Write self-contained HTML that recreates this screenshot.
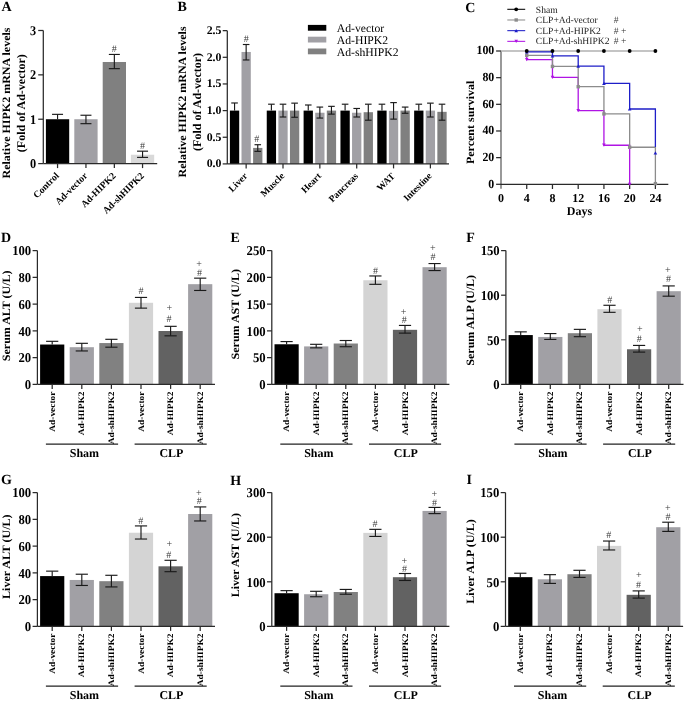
<!DOCTYPE html>
<html><head><meta charset="utf-8"><style>
html,body{margin:0;padding:0;background:#fff;}
svg{display:block;will-change:transform;filter:blur(0.35px);}
text{font-family:"Liberation Serif", serif;text-rendering:geometricPrecision;}
</style></head><body>
<svg width="685" height="701" viewBox="0 0 685 701">
<rect width="685" height="701" fill="#fff"/>
<text x="1.40" y="10.70" font-size="14" font-weight="bold">A</text>
<line x1="43.30" y1="30.49" x2="43.30" y2="163.60" stroke="#2a2a2a" stroke-width="1.25"/>
<line x1="38.20" y1="163.60" x2="43.30" y2="163.60" stroke="#2a2a2a" stroke-width="1.25"/>
<text transform="translate(36.25 167.90) scale(0.92 1)" font-size="13.4" font-weight="bold" text-anchor="end">0</text>
<line x1="38.20" y1="119.23" x2="43.30" y2="119.23" stroke="#2a2a2a" stroke-width="1.25"/>
<text transform="translate(36.25 123.53) scale(0.92 1)" font-size="13.4" font-weight="bold" text-anchor="end">1</text>
<line x1="38.20" y1="74.86" x2="43.30" y2="74.86" stroke="#2a2a2a" stroke-width="1.25"/>
<text transform="translate(36.25 79.16) scale(0.92 1)" font-size="13.4" font-weight="bold" text-anchor="end">2</text>
<line x1="38.20" y1="30.49" x2="43.30" y2="30.49" stroke="#2a2a2a" stroke-width="1.25"/>
<text transform="translate(36.25 34.79) scale(0.92 1)" font-size="13.4" font-weight="bold" text-anchor="end">3</text>
<rect x="45.90" y="119.23" width="23.30" height="44.37" fill="#000000"/>
<line x1="57.55" y1="163.60" x2="57.55" y2="168.10" stroke="#2a2a2a" stroke-width="1.25"/>
<rect x="74.30" y="119.23" width="23.30" height="44.37" fill="#a1a0a5"/>
<line x1="85.95" y1="163.60" x2="85.95" y2="168.10" stroke="#2a2a2a" stroke-width="1.25"/>
<rect x="102.70" y="61.99" width="23.30" height="101.61" fill="#808080"/>
<line x1="114.35" y1="163.60" x2="114.35" y2="168.10" stroke="#2a2a2a" stroke-width="1.25"/>
<rect x="130.90" y="154.73" width="23.30" height="8.87" fill="#d9d9d9"/>
<line x1="142.55" y1="163.60" x2="142.55" y2="168.10" stroke="#2a2a2a" stroke-width="1.25"/>
<line x1="43.30" y1="163.60" x2="157.20" y2="163.60" stroke="#2a2a2a" stroke-width="1.25"/>
<line x1="57.55" y1="114.35" x2="57.55" y2="119.23" stroke="#1a1a1a" stroke-width="1.15"/>
<line x1="52.05" y1="114.35" x2="63.05" y2="114.35" stroke="#1a1a1a" stroke-width="1.15"/>
<line x1="85.95" y1="115.24" x2="85.95" y2="123.67" stroke="#1a1a1a" stroke-width="1.15"/>
<line x1="80.45" y1="115.24" x2="91.45" y2="115.24" stroke="#1a1a1a" stroke-width="1.15"/>
<line x1="80.45" y1="123.67" x2="91.45" y2="123.67" stroke="#1a1a1a" stroke-width="1.15"/>
<line x1="114.35" y1="54.45" x2="114.35" y2="68.65" stroke="#1a1a1a" stroke-width="1.15"/>
<line x1="108.85" y1="54.45" x2="119.85" y2="54.45" stroke="#1a1a1a" stroke-width="1.15"/>
<line x1="108.85" y1="68.65" x2="119.85" y2="68.65" stroke="#1a1a1a" stroke-width="1.15"/>
<line x1="142.55" y1="151.18" x2="142.55" y2="157.39" stroke="#1a1a1a" stroke-width="1.15"/>
<line x1="137.05" y1="151.18" x2="148.05" y2="151.18" stroke="#1a1a1a" stroke-width="1.15"/>
<line x1="137.05" y1="157.39" x2="148.05" y2="157.39" stroke="#1a1a1a" stroke-width="1.15"/>
<text x="114.20" y="51.50" font-size="10" text-anchor="middle" fill="#3a3a3a">#</text>
<text x="142.60" y="148.50" font-size="10" text-anchor="middle" fill="#3a3a3a">#</text>
<text x="59.55" y="176.30" font-size="9.6" font-weight="bold" text-anchor="end" transform="rotate(-45 59.55 176.30)">Control</text>
<text x="87.95" y="176.30" font-size="9.6" font-weight="bold" text-anchor="end" transform="rotate(-45 87.95 176.30)">Ad-vector</text>
<text x="116.35" y="176.30" font-size="9.6" font-weight="bold" text-anchor="end" transform="rotate(-45 116.35 176.30)">Ad-HIPK2</text>
<text x="144.55" y="176.30" font-size="9.6" font-weight="bold" text-anchor="end" transform="rotate(-45 144.55 176.30)">Ad-shHIPK2</text>
<text transform="translate(9.90 103.00) rotate(-90) scale(1 0.93)" font-size="12" font-weight="bold" text-anchor="middle">Relative HIPK2 mRNA levels</text>
<text transform="translate(25.10 103.20) rotate(-90) scale(1 0.98)" font-size="12" font-weight="bold" text-anchor="middle">(Fold of Ad-vector)</text>
<text x="177.60" y="10.70" font-size="14" font-weight="bold">B</text>
<line x1="227.30" y1="30.65" x2="227.30" y2="163.90" stroke="#2a2a2a" stroke-width="1.25"/>
<line x1="222.70" y1="163.90" x2="227.30" y2="163.90" stroke="#2a2a2a" stroke-width="1.25"/>
<text transform="translate(221.40 167.40) scale(1.0 1)" font-size="11.8" font-weight="bold" text-anchor="end">0.0</text>
<line x1="222.70" y1="137.25" x2="227.30" y2="137.25" stroke="#2a2a2a" stroke-width="1.25"/>
<text transform="translate(221.40 140.75) scale(1.0 1)" font-size="11.8" font-weight="bold" text-anchor="end">0.5</text>
<line x1="222.70" y1="110.60" x2="227.30" y2="110.60" stroke="#2a2a2a" stroke-width="1.25"/>
<text transform="translate(221.40 114.10) scale(1.0 1)" font-size="11.8" font-weight="bold" text-anchor="end">1.0</text>
<line x1="222.70" y1="83.95" x2="227.30" y2="83.95" stroke="#2a2a2a" stroke-width="1.25"/>
<text transform="translate(221.40 87.45) scale(1.0 1)" font-size="11.8" font-weight="bold" text-anchor="end">1.5</text>
<line x1="222.70" y1="57.30" x2="227.30" y2="57.30" stroke="#2a2a2a" stroke-width="1.25"/>
<text transform="translate(221.40 60.80) scale(1.0 1)" font-size="11.8" font-weight="bold" text-anchor="end">2.0</text>
<line x1="222.70" y1="30.65" x2="227.30" y2="30.65" stroke="#2a2a2a" stroke-width="1.25"/>
<text transform="translate(221.40 34.15) scale(1.0 1)" font-size="11.8" font-weight="bold" text-anchor="end">2.5</text>
<rect x="229.90" y="110.60" width="9.30" height="53.30" fill="#000000"/>
<rect x="241.50" y="51.97" width="9.30" height="111.93" fill="#a1a0a5"/>
<rect x="253.10" y="147.91" width="9.30" height="15.99" fill="#808080"/>
<line x1="246.15" y1="163.90" x2="246.15" y2="168.40" stroke="#2a2a2a" stroke-width="1.25"/>
<text x="248.15" y="176.60" font-size="9.6" font-weight="bold" text-anchor="end" transform="rotate(-45 248.15 176.60)">Liver</text>
<rect x="266.75" y="110.60" width="9.30" height="53.30" fill="#000000"/>
<rect x="278.35" y="110.60" width="9.30" height="53.30" fill="#a1a0a5"/>
<rect x="289.95" y="110.60" width="9.30" height="53.30" fill="#808080"/>
<line x1="283.00" y1="163.90" x2="283.00" y2="168.40" stroke="#2a2a2a" stroke-width="1.25"/>
<text x="285.00" y="176.60" font-size="9.6" font-weight="bold" text-anchor="end" transform="rotate(-45 285.00 176.60)">Muscle</text>
<rect x="303.60" y="110.60" width="9.30" height="53.30" fill="#000000"/>
<rect x="315.20" y="112.73" width="9.30" height="51.17" fill="#a1a0a5"/>
<rect x="326.80" y="110.60" width="9.30" height="53.30" fill="#808080"/>
<line x1="319.85" y1="163.90" x2="319.85" y2="168.40" stroke="#2a2a2a" stroke-width="1.25"/>
<text x="321.85" y="176.60" font-size="9.6" font-weight="bold" text-anchor="end" transform="rotate(-45 321.85 176.60)">Heart</text>
<rect x="340.45" y="110.60" width="9.30" height="53.30" fill="#000000"/>
<rect x="352.05" y="112.73" width="9.30" height="51.17" fill="#a1a0a5"/>
<rect x="363.65" y="112.20" width="9.30" height="51.70" fill="#808080"/>
<line x1="356.70" y1="163.90" x2="356.70" y2="168.40" stroke="#2a2a2a" stroke-width="1.25"/>
<text x="358.70" y="176.60" font-size="9.6" font-weight="bold" text-anchor="end" transform="rotate(-45 358.70 176.60)">Pancreas</text>
<rect x="377.30" y="110.60" width="9.30" height="53.30" fill="#000000"/>
<rect x="388.90" y="110.87" width="9.30" height="53.03" fill="#a1a0a5"/>
<rect x="400.50" y="110.60" width="9.30" height="53.30" fill="#808080"/>
<line x1="393.55" y1="163.90" x2="393.55" y2="168.40" stroke="#2a2a2a" stroke-width="1.25"/>
<text x="395.55" y="176.60" font-size="9.6" font-weight="bold" text-anchor="end" transform="rotate(-45 395.55 176.60)">WAT</text>
<rect x="414.15" y="110.60" width="9.30" height="53.30" fill="#000000"/>
<rect x="425.75" y="110.60" width="9.30" height="53.30" fill="#a1a0a5"/>
<rect x="437.35" y="111.83" width="9.30" height="52.07" fill="#808080"/>
<line x1="430.40" y1="163.90" x2="430.40" y2="168.40" stroke="#2a2a2a" stroke-width="1.25"/>
<text x="432.40" y="176.60" font-size="9.6" font-weight="bold" text-anchor="end" transform="rotate(-45 432.40 176.60)">Intestine</text>
<line x1="227.30" y1="163.90" x2="449.00" y2="163.90" stroke="#2a2a2a" stroke-width="1.25"/>
<line x1="234.55" y1="102.98" x2="234.55" y2="110.60" stroke="#1a1a1a" stroke-width="1.15"/>
<line x1="231.25" y1="102.98" x2="237.85" y2="102.98" stroke="#1a1a1a" stroke-width="1.15"/>
<line x1="246.15" y1="44.51" x2="246.15" y2="59.97" stroke="#1a1a1a" stroke-width="1.15"/>
<line x1="242.85" y1="44.51" x2="249.45" y2="44.51" stroke="#1a1a1a" stroke-width="1.15"/>
<line x1="242.85" y1="59.97" x2="249.45" y2="59.97" stroke="#1a1a1a" stroke-width="1.15"/>
<line x1="257.75" y1="144.71" x2="257.75" y2="151.37" stroke="#1a1a1a" stroke-width="1.15"/>
<line x1="254.45" y1="144.71" x2="261.05" y2="144.71" stroke="#1a1a1a" stroke-width="1.15"/>
<line x1="254.45" y1="151.37" x2="261.05" y2="151.37" stroke="#1a1a1a" stroke-width="1.15"/>
<line x1="271.40" y1="104.20" x2="271.40" y2="110.60" stroke="#1a1a1a" stroke-width="1.15"/>
<line x1="268.10" y1="104.20" x2="274.70" y2="104.20" stroke="#1a1a1a" stroke-width="1.15"/>
<line x1="283.00" y1="104.20" x2="283.00" y2="117.00" stroke="#1a1a1a" stroke-width="1.15"/>
<line x1="279.70" y1="104.20" x2="286.30" y2="104.20" stroke="#1a1a1a" stroke-width="1.15"/>
<line x1="279.70" y1="117.00" x2="286.30" y2="117.00" stroke="#1a1a1a" stroke-width="1.15"/>
<line x1="294.60" y1="103.14" x2="294.60" y2="117.26" stroke="#1a1a1a" stroke-width="1.15"/>
<line x1="291.30" y1="103.14" x2="297.90" y2="103.14" stroke="#1a1a1a" stroke-width="1.15"/>
<line x1="291.30" y1="117.26" x2="297.90" y2="117.26" stroke="#1a1a1a" stroke-width="1.15"/>
<line x1="308.25" y1="105.00" x2="308.25" y2="110.60" stroke="#1a1a1a" stroke-width="1.15"/>
<line x1="304.95" y1="105.00" x2="311.55" y2="105.00" stroke="#1a1a1a" stroke-width="1.15"/>
<line x1="319.85" y1="107.08" x2="319.85" y2="118.06" stroke="#1a1a1a" stroke-width="1.15"/>
<line x1="316.55" y1="107.08" x2="323.15" y2="107.08" stroke="#1a1a1a" stroke-width="1.15"/>
<line x1="316.55" y1="118.06" x2="323.15" y2="118.06" stroke="#1a1a1a" stroke-width="1.15"/>
<line x1="331.45" y1="106.34" x2="331.45" y2="114.12" stroke="#1a1a1a" stroke-width="1.15"/>
<line x1="328.15" y1="106.34" x2="334.75" y2="106.34" stroke="#1a1a1a" stroke-width="1.15"/>
<line x1="328.15" y1="114.12" x2="334.75" y2="114.12" stroke="#1a1a1a" stroke-width="1.15"/>
<line x1="345.10" y1="104.20" x2="345.10" y2="110.60" stroke="#1a1a1a" stroke-width="1.15"/>
<line x1="341.80" y1="104.20" x2="348.40" y2="104.20" stroke="#1a1a1a" stroke-width="1.15"/>
<line x1="356.70" y1="108.47" x2="356.70" y2="117.00" stroke="#1a1a1a" stroke-width="1.15"/>
<line x1="353.40" y1="108.47" x2="360.00" y2="108.47" stroke="#1a1a1a" stroke-width="1.15"/>
<line x1="353.40" y1="117.00" x2="360.00" y2="117.00" stroke="#1a1a1a" stroke-width="1.15"/>
<line x1="368.30" y1="104.20" x2="368.30" y2="120.19" stroke="#1a1a1a" stroke-width="1.15"/>
<line x1="365.00" y1="104.20" x2="371.60" y2="104.20" stroke="#1a1a1a" stroke-width="1.15"/>
<line x1="365.00" y1="120.19" x2="371.60" y2="120.19" stroke="#1a1a1a" stroke-width="1.15"/>
<line x1="381.95" y1="104.20" x2="381.95" y2="110.60" stroke="#1a1a1a" stroke-width="1.15"/>
<line x1="378.65" y1="104.20" x2="385.25" y2="104.20" stroke="#1a1a1a" stroke-width="1.15"/>
<line x1="393.55" y1="102.61" x2="393.55" y2="119.13" stroke="#1a1a1a" stroke-width="1.15"/>
<line x1="390.25" y1="102.61" x2="396.85" y2="102.61" stroke="#1a1a1a" stroke-width="1.15"/>
<line x1="390.25" y1="119.13" x2="396.85" y2="119.13" stroke="#1a1a1a" stroke-width="1.15"/>
<line x1="405.15" y1="107.08" x2="405.15" y2="113.27" stroke="#1a1a1a" stroke-width="1.15"/>
<line x1="401.85" y1="107.08" x2="408.45" y2="107.08" stroke="#1a1a1a" stroke-width="1.15"/>
<line x1="401.85" y1="113.27" x2="408.45" y2="113.27" stroke="#1a1a1a" stroke-width="1.15"/>
<line x1="418.80" y1="104.20" x2="418.80" y2="110.60" stroke="#1a1a1a" stroke-width="1.15"/>
<line x1="415.50" y1="104.20" x2="422.10" y2="104.20" stroke="#1a1a1a" stroke-width="1.15"/>
<line x1="430.40" y1="103.14" x2="430.40" y2="117.00" stroke="#1a1a1a" stroke-width="1.15"/>
<line x1="427.10" y1="103.14" x2="433.70" y2="103.14" stroke="#1a1a1a" stroke-width="1.15"/>
<line x1="427.10" y1="117.00" x2="433.70" y2="117.00" stroke="#1a1a1a" stroke-width="1.15"/>
<line x1="442.00" y1="104.20" x2="442.00" y2="120.19" stroke="#1a1a1a" stroke-width="1.15"/>
<line x1="438.70" y1="104.20" x2="445.30" y2="104.20" stroke="#1a1a1a" stroke-width="1.15"/>
<line x1="438.70" y1="120.19" x2="445.30" y2="120.19" stroke="#1a1a1a" stroke-width="1.15"/>
<text x="246.20" y="42.00" font-size="10" text-anchor="middle" fill="#3a3a3a">#</text>
<text x="256.80" y="142.30" font-size="10" text-anchor="middle" fill="#3a3a3a">#</text>
<text transform="translate(186.00 101.90) rotate(-90) scale(1 0.93)" font-size="12" font-weight="bold" text-anchor="middle">Relative HIPK2 mRNA levels</text>
<text transform="translate(200.60 101.90) rotate(-90) scale(1 0.98)" font-size="12" font-weight="bold" text-anchor="middle">(Fold of Ad-vector)</text>
<rect x="307.90" y="24.90" width="18.40" height="5.80" fill="#000000"/>
<text x="336.80" y="31.90" font-size="11.7">Ad-vector</text>
<rect x="307.90" y="36.70" width="18.40" height="5.80" fill="#a1a0a5"/>
<text x="336.80" y="43.70" font-size="11.7">Ad-HIPK2</text>
<rect x="307.90" y="48.50" width="18.40" height="5.80" fill="#808080"/>
<text x="336.80" y="55.50" font-size="11.7">Ad-shHIPK2</text>
<text x="465.30" y="12.40" font-size="14" font-weight="bold">C</text>
<line x1="501.00" y1="50.90" x2="501.00" y2="188.80" stroke="#808080" stroke-width="1.6"/>
<line x1="496.10" y1="184.30" x2="501.00" y2="184.30" stroke="#2a2a2a" stroke-width="1.25"/>
<text transform="translate(494.30 187.70) scale(0.96 1)" font-size="12.4" font-weight="bold" text-anchor="end">0</text>
<line x1="496.10" y1="157.64" x2="501.00" y2="157.64" stroke="#2a2a2a" stroke-width="1.25"/>
<text transform="translate(494.30 161.04) scale(0.96 1)" font-size="12.4" font-weight="bold" text-anchor="end">20</text>
<line x1="496.10" y1="130.98" x2="501.00" y2="130.98" stroke="#2a2a2a" stroke-width="1.25"/>
<text transform="translate(494.30 134.38) scale(0.96 1)" font-size="12.4" font-weight="bold" text-anchor="end">40</text>
<line x1="496.10" y1="104.32" x2="501.00" y2="104.32" stroke="#2a2a2a" stroke-width="1.25"/>
<text transform="translate(494.30 107.72) scale(0.96 1)" font-size="12.4" font-weight="bold" text-anchor="end">60</text>
<line x1="496.10" y1="77.66" x2="501.00" y2="77.66" stroke="#2a2a2a" stroke-width="1.25"/>
<text transform="translate(494.30 81.06) scale(0.96 1)" font-size="12.4" font-weight="bold" text-anchor="end">80</text>
<line x1="496.10" y1="51.00" x2="501.00" y2="51.00" stroke="#2a2a2a" stroke-width="1.25"/>
<text transform="translate(494.30 54.40) scale(0.96 1)" font-size="12.4" font-weight="bold" text-anchor="end">100</text>
<line x1="501.00" y1="184.30" x2="668.30" y2="184.30" stroke="#2a2a2a" stroke-width="1.25"/>
<text x="501.00" y="202.00" font-size="12" font-weight="bold" text-anchor="middle">0</text>
<line x1="526.73" y1="184.30" x2="526.73" y2="189.00" stroke="#2a2a2a" stroke-width="1.25"/>
<text x="526.73" y="202.00" font-size="12" font-weight="bold" text-anchor="middle">4</text>
<line x1="552.46" y1="184.30" x2="552.46" y2="189.00" stroke="#2a2a2a" stroke-width="1.25"/>
<text x="552.46" y="202.00" font-size="12" font-weight="bold" text-anchor="middle">8</text>
<line x1="578.20" y1="184.30" x2="578.20" y2="189.00" stroke="#2a2a2a" stroke-width="1.25"/>
<text x="578.20" y="202.00" font-size="12" font-weight="bold" text-anchor="middle">12</text>
<line x1="603.93" y1="184.30" x2="603.93" y2="189.00" stroke="#2a2a2a" stroke-width="1.25"/>
<text x="603.93" y="202.00" font-size="12" font-weight="bold" text-anchor="middle">16</text>
<line x1="629.66" y1="184.30" x2="629.66" y2="189.00" stroke="#2a2a2a" stroke-width="1.25"/>
<text x="629.66" y="202.00" font-size="12" font-weight="bold" text-anchor="middle">20</text>
<line x1="655.39" y1="184.30" x2="655.39" y2="189.00" stroke="#2a2a2a" stroke-width="1.25"/>
<text x="655.39" y="202.00" font-size="12" font-weight="bold" text-anchor="middle">24</text>
<text x="579.50" y="214.60" font-size="12" font-weight="bold" text-anchor="middle">Days</text>
<text transform="translate(473.60 122.40) rotate(-90) scale(1 0.93)" font-size="12" font-weight="bold" text-anchor="middle">Percent survival</text>
<line x1="501.00" y1="51.00" x2="655.39" y2="51.00" stroke="#b0b0b0" stroke-width="1.3"/>
<path d="M526.73,51.00 V59.53 H552.46 V77.39 H578.20 V110.59 H603.93 V145.24 H629.66 V184.30" stroke="#b014e4" stroke-width="1.3" fill="none"/>
<path d="M526.73,51.00 V55.40 H552.46 V66.46 H578.20 V86.72 H603.93 V113.92 H629.66 V147.24 H655.39 V183.63" stroke="#8c8c8c" stroke-width="1.3" fill="none"/>
<path d="M526.73,51.00 V51.87 H552.46 V55.93 H578.20 V66.06 H603.93 V83.39 H629.66 V108.99 H655.39 V146.98" stroke="#1e1ec8" stroke-width="1.3" fill="none"/>
<path d="M524.93,57.91 L528.53,57.91 L526.73,61.15 Z" fill="#b014e4"/>
<path d="M550.66,75.77 L554.26,75.77 L552.46,79.01 Z" fill="#b014e4"/>
<path d="M576.40,108.97 L580.00,108.97 L578.20,112.21 Z" fill="#b014e4"/>
<path d="M602.13,143.62 L605.73,143.62 L603.93,146.86 Z" fill="#b014e4"/>
<path d="M627.86,182.68 L631.46,182.68 L629.66,185.92 Z" fill="#b014e4"/>
<rect x="525.03" y="53.70" width="3.40" height="3.40" fill="#8c8c8c"/>
<rect x="550.76" y="64.76" width="3.40" height="3.40" fill="#8c8c8c"/>
<rect x="576.50" y="85.02" width="3.40" height="3.40" fill="#8c8c8c"/>
<rect x="602.23" y="112.22" width="3.40" height="3.40" fill="#8c8c8c"/>
<rect x="627.96" y="145.54" width="3.40" height="3.40" fill="#8c8c8c"/>
<rect x="653.69" y="181.93" width="3.40" height="3.40" fill="#8c8c8c"/>
<path d="M524.93,53.49 L528.53,53.49 L526.73,50.25 Z" fill="#1e1ec8"/>
<path d="M550.66,57.55 L554.26,57.55 L552.46,54.31 Z" fill="#1e1ec8"/>
<path d="M576.40,67.68 L580.00,67.68 L578.20,64.44 Z" fill="#1e1ec8"/>
<path d="M602.13,85.01 L605.73,85.01 L603.93,81.77 Z" fill="#1e1ec8"/>
<path d="M627.86,110.61 L631.46,110.61 L629.66,107.37 Z" fill="#1e1ec8"/>
<path d="M653.59,154.59 L657.19,154.59 L655.39,151.35 Z" fill="#1e1ec8"/>
<circle cx="526.73" cy="51.00" r="1.9" fill="#000"/>
<circle cx="552.46" cy="51.00" r="1.9" fill="#000"/>
<circle cx="578.20" cy="51.00" r="1.9" fill="#000"/>
<circle cx="603.93" cy="51.00" r="1.9" fill="#000"/>
<circle cx="629.66" cy="51.00" r="1.9" fill="#000"/>
<circle cx="655.39" cy="51.00" r="1.9" fill="#000"/>
<line x1="507.30" y1="9.30" x2="525.20" y2="9.30" stroke="#000" stroke-width="1.05"/>
<circle cx="516.20" cy="9.30" r="1.9" fill="#000"/>
<text x="535.80" y="13.00" font-size="9.6" fill="#222">Sham</text>
<line x1="507.30" y1="19.98" x2="525.20" y2="19.98" stroke="#8c8c8c" stroke-width="1.05"/>
<rect x="514.50" y="18.28" width="3.40" height="3.40" fill="#8c8c8c"/>
<text x="535.80" y="23.35" font-size="9.6" fill="#222">CLP+Ad-vector</text>
<text x="613.70" y="23.35" font-size="9.6" fill="#333">#</text>
<line x1="507.30" y1="30.66" x2="525.20" y2="30.66" stroke="#1e1ec8" stroke-width="1.05"/>
<path d="M514.40,32.28 L518.00,32.28 L516.20,29.04 Z" fill="#1e1ec8"/>
<text x="535.80" y="33.70" font-size="9.6" fill="#222">CLP+Ad-HIPK2</text>
<text x="613.70" y="33.70" font-size="9.6" fill="#333">#</text>
<text x="621.10" y="33.70" font-size="9.6" fill="#333">+</text>
<line x1="507.30" y1="41.34" x2="525.20" y2="41.34" stroke="#b014e4" stroke-width="1.05"/>
<path d="M514.40,39.72 L518.00,39.72 L516.20,42.96 Z" fill="#b014e4"/>
<text x="535.80" y="44.05" font-size="9.6" fill="#222">CLP+Ad-shHIPK2</text>
<text x="613.70" y="44.05" font-size="9.6" fill="#333">#</text>
<text x="621.10" y="44.05" font-size="9.6" fill="#333">+</text>
<text x="1.10" y="241.50" font-size="14" font-weight="bold">D</text>
<line x1="37.40" y1="250.60" x2="37.40" y2="384.40" stroke="#2a2a2a" stroke-width="1.25"/>
<line x1="32.60" y1="384.40" x2="37.40" y2="384.40" stroke="#2a2a2a" stroke-width="1.25"/>
<text transform="translate(31.20 389.10) scale(0.94 1)" font-size="13.5" font-weight="bold" text-anchor="end">0</text>
<line x1="32.60" y1="357.64" x2="37.40" y2="357.64" stroke="#2a2a2a" stroke-width="1.25"/>
<text transform="translate(31.20 362.34) scale(0.94 1)" font-size="13.5" font-weight="bold" text-anchor="end">20</text>
<line x1="32.60" y1="330.88" x2="37.40" y2="330.88" stroke="#2a2a2a" stroke-width="1.25"/>
<text transform="translate(31.20 335.58) scale(0.94 1)" font-size="13.5" font-weight="bold" text-anchor="end">40</text>
<line x1="32.60" y1="304.12" x2="37.40" y2="304.12" stroke="#2a2a2a" stroke-width="1.25"/>
<text transform="translate(31.20 308.82) scale(0.94 1)" font-size="13.5" font-weight="bold" text-anchor="end">60</text>
<line x1="32.60" y1="277.36" x2="37.40" y2="277.36" stroke="#2a2a2a" stroke-width="1.25"/>
<text transform="translate(31.20 282.06) scale(0.94 1)" font-size="13.5" font-weight="bold" text-anchor="end">80</text>
<line x1="32.60" y1="250.60" x2="37.40" y2="250.60" stroke="#2a2a2a" stroke-width="1.25"/>
<text transform="translate(31.20 255.30) scale(0.94 1)" font-size="13.5" font-weight="bold" text-anchor="end">100</text>
<rect x="40.10" y="344.53" width="24.20" height="39.87" fill="#000000"/>
<line x1="52.20" y1="384.40" x2="52.20" y2="388.90" stroke="#2a2a2a" stroke-width="1.25"/>
<text transform="translate(54.70 391.60) rotate(-90) scale(1 0.9)" font-size="9.4" font-weight="bold" text-anchor="end">Ad-vector</text>
<rect x="69.70" y="347.20" width="24.20" height="37.20" fill="#a1a0a5"/>
<line x1="81.80" y1="384.40" x2="81.80" y2="388.90" stroke="#2a2a2a" stroke-width="1.25"/>
<text transform="translate(84.30 391.60) rotate(-90) scale(1 0.9)" font-size="9.4" font-weight="bold" text-anchor="end">Ad-HIPK2</text>
<rect x="99.30" y="343.06" width="24.20" height="41.34" fill="#818181"/>
<line x1="111.40" y1="384.40" x2="111.40" y2="388.90" stroke="#2a2a2a" stroke-width="1.25"/>
<text transform="translate(113.90 391.60) rotate(-90) scale(1 0.9)" font-size="9.4" font-weight="bold" text-anchor="end">Ad-shHIPK2</text>
<rect x="128.90" y="302.78" width="24.20" height="81.62" fill="#d4d4d4"/>
<line x1="141.00" y1="384.40" x2="141.00" y2="388.90" stroke="#2a2a2a" stroke-width="1.25"/>
<text transform="translate(143.50 391.60) rotate(-90) scale(1 0.9)" font-size="9.4" font-weight="bold" text-anchor="end">Ad-vector</text>
<rect x="158.50" y="331.01" width="24.20" height="53.39" fill="#626262"/>
<line x1="170.60" y1="384.40" x2="170.60" y2="388.90" stroke="#2a2a2a" stroke-width="1.25"/>
<text transform="translate(173.10 391.60) rotate(-90) scale(1 0.9)" font-size="9.4" font-weight="bold" text-anchor="end">Ad-HIPK2</text>
<rect x="188.10" y="284.18" width="24.20" height="100.22" fill="#a1a0a5"/>
<line x1="200.20" y1="384.40" x2="200.20" y2="388.90" stroke="#2a2a2a" stroke-width="1.25"/>
<text transform="translate(202.70 391.60) rotate(-90) scale(1 0.9)" font-size="9.4" font-weight="bold" text-anchor="end">Ad-shHIPK2</text>
<line x1="37.40" y1="384.40" x2="215.00" y2="384.40" stroke="#2a2a2a" stroke-width="1.25"/>
<line x1="52.20" y1="341.32" x2="52.20" y2="344.53" stroke="#1a1a1a" stroke-width="1.15"/>
<line x1="46.10" y1="341.32" x2="58.30" y2="341.32" stroke="#1a1a1a" stroke-width="1.15"/>
<line x1="81.80" y1="343.32" x2="81.80" y2="350.95" stroke="#1a1a1a" stroke-width="1.15"/>
<line x1="75.70" y1="343.32" x2="87.90" y2="343.32" stroke="#1a1a1a" stroke-width="1.15"/>
<line x1="75.70" y1="350.95" x2="87.90" y2="350.95" stroke="#1a1a1a" stroke-width="1.15"/>
<line x1="111.40" y1="339.31" x2="111.40" y2="347.20" stroke="#1a1a1a" stroke-width="1.15"/>
<line x1="105.30" y1="339.31" x2="117.50" y2="339.31" stroke="#1a1a1a" stroke-width="1.15"/>
<line x1="105.30" y1="347.20" x2="117.50" y2="347.20" stroke="#1a1a1a" stroke-width="1.15"/>
<line x1="141.00" y1="297.43" x2="141.00" y2="308.13" stroke="#1a1a1a" stroke-width="1.15"/>
<line x1="134.90" y1="297.43" x2="147.10" y2="297.43" stroke="#1a1a1a" stroke-width="1.15"/>
<line x1="134.90" y1="308.13" x2="147.10" y2="308.13" stroke="#1a1a1a" stroke-width="1.15"/>
<line x1="170.60" y1="326.33" x2="170.60" y2="335.83" stroke="#1a1a1a" stroke-width="1.15"/>
<line x1="164.50" y1="326.33" x2="176.70" y2="326.33" stroke="#1a1a1a" stroke-width="1.15"/>
<line x1="164.50" y1="335.83" x2="176.70" y2="335.83" stroke="#1a1a1a" stroke-width="1.15"/>
<line x1="200.20" y1="278.16" x2="200.20" y2="290.47" stroke="#1a1a1a" stroke-width="1.15"/>
<line x1="194.10" y1="278.16" x2="206.30" y2="278.16" stroke="#1a1a1a" stroke-width="1.15"/>
<line x1="194.10" y1="290.47" x2="206.30" y2="290.47" stroke="#1a1a1a" stroke-width="1.15"/>
<text x="141.00" y="294.30" font-size="10" text-anchor="middle" fill="#3a3a3a">#</text>
<text x="168.90" y="321.70" font-size="10" text-anchor="middle" fill="#3a3a3a">#</text>
<text x="169.30" y="310.70" font-size="10" text-anchor="middle" fill="#3a3a3a">+</text>
<text x="199.60" y="275.60" font-size="10" text-anchor="middle" fill="#3a3a3a">#</text>
<text x="199.00" y="266.70" font-size="10" text-anchor="middle" fill="#3a3a3a">+</text>
<line x1="45.90" y1="444.10" x2="118.10" y2="444.10" stroke="#222" stroke-width="1.2"/>
<line x1="134.60" y1="444.10" x2="206.70" y2="444.10" stroke="#222" stroke-width="1.2"/>
<text x="84.40" y="457.20" font-size="12" font-weight="bold" text-anchor="middle">Sham</text>
<text x="171.40" y="457.20" font-size="12" font-weight="bold" text-anchor="middle">CLP</text>
<text transform="translate(9.90 315.85) rotate(-90) scale(1 0.93)" font-size="12" font-weight="bold" text-anchor="middle">Serum ALT (U/L)</text>
<text x="230.40" y="241.50" font-size="14" font-weight="bold">E</text>
<line x1="271.80" y1="250.60" x2="271.80" y2="384.40" stroke="#2a2a2a" stroke-width="1.25"/>
<line x1="267.00" y1="384.40" x2="271.80" y2="384.40" stroke="#2a2a2a" stroke-width="1.25"/>
<text transform="translate(265.60 389.10) scale(0.94 1)" font-size="13.5" font-weight="bold" text-anchor="end">0</text>
<line x1="267.00" y1="357.64" x2="271.80" y2="357.64" stroke="#2a2a2a" stroke-width="1.25"/>
<text transform="translate(265.60 362.34) scale(0.94 1)" font-size="13.5" font-weight="bold" text-anchor="end">50</text>
<line x1="267.00" y1="330.88" x2="271.80" y2="330.88" stroke="#2a2a2a" stroke-width="1.25"/>
<text transform="translate(265.60 335.58) scale(0.94 1)" font-size="13.5" font-weight="bold" text-anchor="end">100</text>
<line x1="267.00" y1="304.12" x2="271.80" y2="304.12" stroke="#2a2a2a" stroke-width="1.25"/>
<text transform="translate(265.60 308.82) scale(0.94 1)" font-size="13.5" font-weight="bold" text-anchor="end">150</text>
<line x1="267.00" y1="277.36" x2="271.80" y2="277.36" stroke="#2a2a2a" stroke-width="1.25"/>
<text transform="translate(265.60 282.06) scale(0.94 1)" font-size="13.5" font-weight="bold" text-anchor="end">200</text>
<line x1="267.00" y1="250.60" x2="271.80" y2="250.60" stroke="#2a2a2a" stroke-width="1.25"/>
<text transform="translate(265.60 255.30) scale(0.94 1)" font-size="13.5" font-weight="bold" text-anchor="end">250</text>
<rect x="274.50" y="344.26" width="24.20" height="40.14" fill="#000000"/>
<line x1="286.60" y1="384.40" x2="286.60" y2="388.90" stroke="#2a2a2a" stroke-width="1.25"/>
<text transform="translate(289.10 391.60) rotate(-90) scale(1 0.9)" font-size="9.4" font-weight="bold" text-anchor="end">Ad-vector</text>
<rect x="304.10" y="346.40" width="24.20" height="38.00" fill="#a1a0a5"/>
<line x1="316.20" y1="384.40" x2="316.20" y2="388.90" stroke="#2a2a2a" stroke-width="1.25"/>
<text transform="translate(318.70 391.60) rotate(-90) scale(1 0.9)" font-size="9.4" font-weight="bold" text-anchor="end">Ad-HIPK2</text>
<rect x="333.70" y="343.51" width="24.20" height="40.89" fill="#818181"/>
<line x1="345.80" y1="384.40" x2="345.80" y2="388.90" stroke="#2a2a2a" stroke-width="1.25"/>
<text transform="translate(348.30 391.60) rotate(-90) scale(1 0.9)" font-size="9.4" font-weight="bold" text-anchor="end">Ad-shHIPK2</text>
<rect x="363.30" y="280.25" width="24.20" height="104.15" fill="#d4d4d4"/>
<line x1="375.40" y1="384.40" x2="375.40" y2="388.90" stroke="#2a2a2a" stroke-width="1.25"/>
<text transform="translate(377.90 391.60) rotate(-90) scale(1 0.9)" font-size="9.4" font-weight="bold" text-anchor="end">Ad-vector</text>
<rect x="392.90" y="329.81" width="24.20" height="54.59" fill="#626262"/>
<line x1="405.00" y1="384.40" x2="405.00" y2="388.90" stroke="#2a2a2a" stroke-width="1.25"/>
<text transform="translate(407.50 391.60) rotate(-90) scale(1 0.9)" font-size="9.4" font-weight="bold" text-anchor="end">Ad-HIPK2</text>
<rect x="422.50" y="267.19" width="24.20" height="117.21" fill="#a1a0a5"/>
<line x1="434.60" y1="384.40" x2="434.60" y2="388.90" stroke="#2a2a2a" stroke-width="1.25"/>
<text transform="translate(437.10 391.60) rotate(-90) scale(1 0.9)" font-size="9.4" font-weight="bold" text-anchor="end">Ad-shHIPK2</text>
<line x1="271.80" y1="384.40" x2="449.40" y2="384.40" stroke="#2a2a2a" stroke-width="1.25"/>
<line x1="286.60" y1="341.58" x2="286.60" y2="344.26" stroke="#1a1a1a" stroke-width="1.15"/>
<line x1="280.50" y1="341.58" x2="292.70" y2="341.58" stroke="#1a1a1a" stroke-width="1.15"/>
<line x1="316.20" y1="344.31" x2="316.20" y2="347.85" stroke="#1a1a1a" stroke-width="1.15"/>
<line x1="310.10" y1="344.31" x2="322.30" y2="344.31" stroke="#1a1a1a" stroke-width="1.15"/>
<line x1="310.10" y1="347.85" x2="322.30" y2="347.85" stroke="#1a1a1a" stroke-width="1.15"/>
<line x1="345.80" y1="340.51" x2="345.80" y2="346.72" stroke="#1a1a1a" stroke-width="1.15"/>
<line x1="339.70" y1="340.51" x2="351.90" y2="340.51" stroke="#1a1a1a" stroke-width="1.15"/>
<line x1="339.70" y1="346.72" x2="351.90" y2="346.72" stroke="#1a1a1a" stroke-width="1.15"/>
<line x1="375.40" y1="275.97" x2="375.40" y2="284.32" stroke="#1a1a1a" stroke-width="1.15"/>
<line x1="369.30" y1="275.97" x2="381.50" y2="275.97" stroke="#1a1a1a" stroke-width="1.15"/>
<line x1="369.30" y1="284.32" x2="381.50" y2="284.32" stroke="#1a1a1a" stroke-width="1.15"/>
<line x1="405.00" y1="325.42" x2="405.00" y2="333.13" stroke="#1a1a1a" stroke-width="1.15"/>
<line x1="398.90" y1="325.42" x2="411.10" y2="325.42" stroke="#1a1a1a" stroke-width="1.15"/>
<line x1="398.90" y1="333.13" x2="411.10" y2="333.13" stroke="#1a1a1a" stroke-width="1.15"/>
<line x1="434.60" y1="263.55" x2="434.60" y2="270.56" stroke="#1a1a1a" stroke-width="1.15"/>
<line x1="428.50" y1="263.55" x2="440.70" y2="263.55" stroke="#1a1a1a" stroke-width="1.15"/>
<line x1="428.50" y1="270.56" x2="440.70" y2="270.56" stroke="#1a1a1a" stroke-width="1.15"/>
<text x="375.40" y="273.90" font-size="10" text-anchor="middle" fill="#3a3a3a">#</text>
<text x="404.30" y="323.20" font-size="10" text-anchor="middle" fill="#3a3a3a">#</text>
<text x="403.50" y="314.70" font-size="10" text-anchor="middle" fill="#3a3a3a">+</text>
<text x="433.10" y="260.40" font-size="10" text-anchor="middle" fill="#3a3a3a">#</text>
<text x="432.70" y="251.20" font-size="10" text-anchor="middle" fill="#3a3a3a">+</text>
<line x1="280.30" y1="444.10" x2="352.50" y2="444.10" stroke="#222" stroke-width="1.2"/>
<line x1="369.00" y1="444.10" x2="441.10" y2="444.10" stroke="#222" stroke-width="1.2"/>
<text x="318.80" y="457.20" font-size="12" font-weight="bold" text-anchor="middle">Sham</text>
<text x="405.80" y="457.20" font-size="12" font-weight="bold" text-anchor="middle">CLP</text>
<text transform="translate(238.50 314.15) rotate(-90) scale(1 0.93)" font-size="12" font-weight="bold" text-anchor="middle">Serum AST (U/L)</text>
<text x="466.30" y="241.50" font-size="14" font-weight="bold">F</text>
<line x1="505.90" y1="250.60" x2="505.90" y2="384.40" stroke="#2a2a2a" stroke-width="1.25"/>
<line x1="501.10" y1="384.40" x2="505.90" y2="384.40" stroke="#2a2a2a" stroke-width="1.25"/>
<text transform="translate(499.70 389.10) scale(0.94 1)" font-size="13.5" font-weight="bold" text-anchor="end">0</text>
<line x1="501.10" y1="339.80" x2="505.90" y2="339.80" stroke="#2a2a2a" stroke-width="1.25"/>
<text transform="translate(499.70 344.50) scale(0.94 1)" font-size="13.5" font-weight="bold" text-anchor="end">50</text>
<line x1="501.10" y1="295.20" x2="505.90" y2="295.20" stroke="#2a2a2a" stroke-width="1.25"/>
<text transform="translate(499.70 299.90) scale(0.94 1)" font-size="13.5" font-weight="bold" text-anchor="end">100</text>
<line x1="501.10" y1="250.60" x2="505.90" y2="250.60" stroke="#2a2a2a" stroke-width="1.25"/>
<text transform="translate(499.70 255.30) scale(0.94 1)" font-size="13.5" font-weight="bold" text-anchor="end">150</text>
<rect x="508.60" y="335.07" width="24.20" height="49.33" fill="#000000"/>
<line x1="520.70" y1="384.40" x2="520.70" y2="388.90" stroke="#2a2a2a" stroke-width="1.25"/>
<text transform="translate(523.20 391.60) rotate(-90) scale(1 0.9)" font-size="9.4" font-weight="bold" text-anchor="end">Ad-vector</text>
<rect x="538.20" y="336.95" width="24.20" height="47.45" fill="#a1a0a5"/>
<line x1="550.30" y1="384.40" x2="550.30" y2="388.90" stroke="#2a2a2a" stroke-width="1.25"/>
<text transform="translate(552.80 391.60) rotate(-90) scale(1 0.9)" font-size="9.4" font-weight="bold" text-anchor="end">Ad-HIPK2</text>
<rect x="567.80" y="333.20" width="24.20" height="51.20" fill="#818181"/>
<line x1="579.90" y1="384.40" x2="579.90" y2="388.90" stroke="#2a2a2a" stroke-width="1.25"/>
<text transform="translate(582.40 391.60) rotate(-90) scale(1 0.9)" font-size="9.4" font-weight="bold" text-anchor="end">Ad-shHIPK2</text>
<rect x="597.40" y="309.20" width="24.20" height="75.20" fill="#d4d4d4"/>
<line x1="609.50" y1="384.40" x2="609.50" y2="388.90" stroke="#2a2a2a" stroke-width="1.25"/>
<text transform="translate(612.00 391.60) rotate(-90) scale(1 0.9)" font-size="9.4" font-weight="bold" text-anchor="end">Ad-vector</text>
<rect x="627.00" y="349.26" width="24.20" height="35.14" fill="#626262"/>
<line x1="639.10" y1="384.40" x2="639.10" y2="388.90" stroke="#2a2a2a" stroke-width="1.25"/>
<text transform="translate(641.60 391.60) rotate(-90) scale(1 0.9)" font-size="9.4" font-weight="bold" text-anchor="end">Ad-HIPK2</text>
<rect x="656.60" y="291.19" width="24.20" height="93.21" fill="#a1a0a5"/>
<line x1="668.70" y1="384.40" x2="668.70" y2="388.90" stroke="#2a2a2a" stroke-width="1.25"/>
<text transform="translate(671.20 391.60) rotate(-90) scale(1 0.9)" font-size="9.4" font-weight="bold" text-anchor="end">Ad-shHIPK2</text>
<line x1="505.90" y1="384.40" x2="683.50" y2="384.40" stroke="#2a2a2a" stroke-width="1.25"/>
<line x1="520.70" y1="331.86" x2="520.70" y2="335.07" stroke="#1a1a1a" stroke-width="1.15"/>
<line x1="514.60" y1="331.86" x2="526.80" y2="331.86" stroke="#1a1a1a" stroke-width="1.15"/>
<line x1="550.30" y1="333.56" x2="550.30" y2="339.44" stroke="#1a1a1a" stroke-width="1.15"/>
<line x1="544.20" y1="333.56" x2="556.40" y2="333.56" stroke="#1a1a1a" stroke-width="1.15"/>
<line x1="544.20" y1="339.44" x2="556.40" y2="339.44" stroke="#1a1a1a" stroke-width="1.15"/>
<line x1="579.90" y1="329.36" x2="579.90" y2="336.68" stroke="#1a1a1a" stroke-width="1.15"/>
<line x1="573.80" y1="329.36" x2="586.00" y2="329.36" stroke="#1a1a1a" stroke-width="1.15"/>
<line x1="573.80" y1="336.68" x2="586.00" y2="336.68" stroke="#1a1a1a" stroke-width="1.15"/>
<line x1="609.50" y1="305.28" x2="609.50" y2="312.33" stroke="#1a1a1a" stroke-width="1.15"/>
<line x1="603.40" y1="305.28" x2="615.60" y2="305.28" stroke="#1a1a1a" stroke-width="1.15"/>
<line x1="603.40" y1="312.33" x2="615.60" y2="312.33" stroke="#1a1a1a" stroke-width="1.15"/>
<line x1="639.10" y1="345.42" x2="639.10" y2="352.11" stroke="#1a1a1a" stroke-width="1.15"/>
<line x1="633.00" y1="345.42" x2="645.20" y2="345.42" stroke="#1a1a1a" stroke-width="1.15"/>
<line x1="633.00" y1="352.11" x2="645.20" y2="352.11" stroke="#1a1a1a" stroke-width="1.15"/>
<line x1="668.70" y1="285.92" x2="668.70" y2="296.18" stroke="#1a1a1a" stroke-width="1.15"/>
<line x1="662.60" y1="285.92" x2="674.80" y2="285.92" stroke="#1a1a1a" stroke-width="1.15"/>
<line x1="662.60" y1="296.18" x2="674.80" y2="296.18" stroke="#1a1a1a" stroke-width="1.15"/>
<text x="609.70" y="302.60" font-size="10" text-anchor="middle" fill="#3a3a3a">#</text>
<text x="639.20" y="342.40" font-size="10" text-anchor="middle" fill="#3a3a3a">#</text>
<text x="639.70" y="332.00" font-size="10" text-anchor="middle" fill="#3a3a3a">+</text>
<text x="668.40" y="282.00" font-size="10" text-anchor="middle" fill="#3a3a3a">#</text>
<text x="667.70" y="273.30" font-size="10" text-anchor="middle" fill="#3a3a3a">+</text>
<line x1="514.40" y1="444.10" x2="586.60" y2="444.10" stroke="#222" stroke-width="1.2"/>
<line x1="603.10" y1="444.10" x2="675.20" y2="444.10" stroke="#222" stroke-width="1.2"/>
<text x="552.90" y="457.20" font-size="12" font-weight="bold" text-anchor="middle">Sham</text>
<text x="639.90" y="457.20" font-size="12" font-weight="bold" text-anchor="middle">CLP</text>
<text transform="translate(473.60 320.30) rotate(-90) scale(1 0.93)" font-size="12" font-weight="bold" text-anchor="middle">Serum ALP (U/L)</text>
<text x="1.00" y="484.40" font-size="14" font-weight="bold">G</text>
<line x1="37.40" y1="492.60" x2="37.40" y2="626.40" stroke="#2a2a2a" stroke-width="1.25"/>
<line x1="32.60" y1="626.40" x2="37.40" y2="626.40" stroke="#2a2a2a" stroke-width="1.25"/>
<text transform="translate(31.20 631.10) scale(0.94 1)" font-size="13.5" font-weight="bold" text-anchor="end">0</text>
<line x1="32.60" y1="599.64" x2="37.40" y2="599.64" stroke="#2a2a2a" stroke-width="1.25"/>
<text transform="translate(31.20 604.34) scale(0.94 1)" font-size="13.5" font-weight="bold" text-anchor="end">20</text>
<line x1="32.60" y1="572.88" x2="37.40" y2="572.88" stroke="#2a2a2a" stroke-width="1.25"/>
<text transform="translate(31.20 577.58) scale(0.94 1)" font-size="13.5" font-weight="bold" text-anchor="end">40</text>
<line x1="32.60" y1="546.12" x2="37.40" y2="546.12" stroke="#2a2a2a" stroke-width="1.25"/>
<text transform="translate(31.20 550.82) scale(0.94 1)" font-size="13.5" font-weight="bold" text-anchor="end">60</text>
<line x1="32.60" y1="519.36" x2="37.40" y2="519.36" stroke="#2a2a2a" stroke-width="1.25"/>
<text transform="translate(31.20 524.06) scale(0.94 1)" font-size="13.5" font-weight="bold" text-anchor="end">80</text>
<line x1="32.60" y1="492.60" x2="37.40" y2="492.60" stroke="#2a2a2a" stroke-width="1.25"/>
<text transform="translate(31.20 497.30) scale(0.94 1)" font-size="13.5" font-weight="bold" text-anchor="end">100</text>
<rect x="40.10" y="576.09" width="24.20" height="50.31" fill="#000000"/>
<line x1="52.20" y1="626.40" x2="52.20" y2="630.90" stroke="#2a2a2a" stroke-width="1.25"/>
<text transform="translate(54.70 633.60) rotate(-90) scale(1 0.9)" font-size="9.4" font-weight="bold" text-anchor="end">Ad-vector</text>
<rect x="69.70" y="579.97" width="24.20" height="46.43" fill="#a1a0a5"/>
<line x1="81.80" y1="626.40" x2="81.80" y2="630.90" stroke="#2a2a2a" stroke-width="1.25"/>
<text transform="translate(84.30 633.60) rotate(-90) scale(1 0.9)" font-size="9.4" font-weight="bold" text-anchor="end">Ad-HIPK2</text>
<rect x="99.30" y="581.18" width="24.20" height="45.22" fill="#818181"/>
<line x1="111.40" y1="626.40" x2="111.40" y2="630.90" stroke="#2a2a2a" stroke-width="1.25"/>
<text transform="translate(113.90 633.60) rotate(-90) scale(1 0.9)" font-size="9.4" font-weight="bold" text-anchor="end">Ad-shHIPK2</text>
<rect x="128.90" y="532.74" width="24.20" height="93.66" fill="#d4d4d4"/>
<line x1="141.00" y1="626.40" x2="141.00" y2="630.90" stroke="#2a2a2a" stroke-width="1.25"/>
<text transform="translate(143.50 633.60) rotate(-90) scale(1 0.9)" font-size="9.4" font-weight="bold" text-anchor="end">Ad-vector</text>
<rect x="158.50" y="566.32" width="24.20" height="60.08" fill="#626262"/>
<line x1="170.60" y1="626.40" x2="170.60" y2="630.90" stroke="#2a2a2a" stroke-width="1.25"/>
<text transform="translate(173.10 633.60) rotate(-90) scale(1 0.9)" font-size="9.4" font-weight="bold" text-anchor="end">Ad-HIPK2</text>
<rect x="188.10" y="514.01" width="24.20" height="112.39" fill="#a1a0a5"/>
<line x1="200.20" y1="626.40" x2="200.20" y2="630.90" stroke="#2a2a2a" stroke-width="1.25"/>
<text transform="translate(202.70 633.60) rotate(-90) scale(1 0.9)" font-size="9.4" font-weight="bold" text-anchor="end">Ad-shHIPK2</text>
<line x1="37.40" y1="626.40" x2="215.00" y2="626.40" stroke="#2a2a2a" stroke-width="1.25"/>
<line x1="52.20" y1="571.14" x2="52.20" y2="576.09" stroke="#1a1a1a" stroke-width="1.15"/>
<line x1="46.10" y1="571.14" x2="58.30" y2="571.14" stroke="#1a1a1a" stroke-width="1.15"/>
<line x1="81.80" y1="574.22" x2="81.80" y2="585.46" stroke="#1a1a1a" stroke-width="1.15"/>
<line x1="75.70" y1="574.22" x2="87.90" y2="574.22" stroke="#1a1a1a" stroke-width="1.15"/>
<line x1="75.70" y1="585.46" x2="87.90" y2="585.46" stroke="#1a1a1a" stroke-width="1.15"/>
<line x1="111.40" y1="575.29" x2="111.40" y2="586.93" stroke="#1a1a1a" stroke-width="1.15"/>
<line x1="105.30" y1="575.29" x2="117.50" y2="575.29" stroke="#1a1a1a" stroke-width="1.15"/>
<line x1="105.30" y1="586.93" x2="117.50" y2="586.93" stroke="#1a1a1a" stroke-width="1.15"/>
<line x1="141.00" y1="525.92" x2="141.00" y2="539.03" stroke="#1a1a1a" stroke-width="1.15"/>
<line x1="134.90" y1="525.92" x2="147.10" y2="525.92" stroke="#1a1a1a" stroke-width="1.15"/>
<line x1="134.90" y1="539.03" x2="147.10" y2="539.03" stroke="#1a1a1a" stroke-width="1.15"/>
<line x1="170.60" y1="560.30" x2="170.60" y2="571.68" stroke="#1a1a1a" stroke-width="1.15"/>
<line x1="164.50" y1="560.30" x2="176.70" y2="560.30" stroke="#1a1a1a" stroke-width="1.15"/>
<line x1="164.50" y1="571.68" x2="176.70" y2="571.68" stroke="#1a1a1a" stroke-width="1.15"/>
<line x1="200.20" y1="506.92" x2="200.20" y2="520.97" stroke="#1a1a1a" stroke-width="1.15"/>
<line x1="194.10" y1="506.92" x2="206.30" y2="506.92" stroke="#1a1a1a" stroke-width="1.15"/>
<line x1="194.10" y1="520.97" x2="206.30" y2="520.97" stroke="#1a1a1a" stroke-width="1.15"/>
<text x="140.80" y="523.60" font-size="10" text-anchor="middle" fill="#3a3a3a">#</text>
<text x="168.80" y="557.80" font-size="10" text-anchor="middle" fill="#3a3a3a">#</text>
<text x="169.20" y="547.00" font-size="10" text-anchor="middle" fill="#3a3a3a">+</text>
<text x="199.30" y="504.40" font-size="10" text-anchor="middle" fill="#3a3a3a">#</text>
<text x="198.80" y="496.00" font-size="10" text-anchor="middle" fill="#3a3a3a">+</text>
<line x1="45.90" y1="686.10" x2="118.10" y2="686.10" stroke="#222" stroke-width="1.2"/>
<line x1="134.60" y1="686.10" x2="206.70" y2="686.10" stroke="#222" stroke-width="1.2"/>
<text x="84.40" y="699.20" font-size="12" font-weight="bold" text-anchor="middle">Sham</text>
<text x="171.40" y="699.20" font-size="12" font-weight="bold" text-anchor="middle">CLP</text>
<text transform="translate(9.80 556.65) rotate(-90) scale(1 0.93)" font-size="12" font-weight="bold" text-anchor="middle">Liver ALT (U/L)</text>
<text x="230.20" y="484.50" font-size="14" font-weight="bold">H</text>
<line x1="271.80" y1="492.60" x2="271.80" y2="626.40" stroke="#2a2a2a" stroke-width="1.25"/>
<line x1="267.00" y1="626.40" x2="271.80" y2="626.40" stroke="#2a2a2a" stroke-width="1.25"/>
<text transform="translate(265.60 631.10) scale(0.94 1)" font-size="13.5" font-weight="bold" text-anchor="end">0</text>
<line x1="267.00" y1="581.80" x2="271.80" y2="581.80" stroke="#2a2a2a" stroke-width="1.25"/>
<text transform="translate(265.60 586.50) scale(0.94 1)" font-size="13.5" font-weight="bold" text-anchor="end">100</text>
<line x1="267.00" y1="537.20" x2="271.80" y2="537.20" stroke="#2a2a2a" stroke-width="1.25"/>
<text transform="translate(265.60 541.90) scale(0.94 1)" font-size="13.5" font-weight="bold" text-anchor="end">200</text>
<line x1="267.00" y1="492.60" x2="271.80" y2="492.60" stroke="#2a2a2a" stroke-width="1.25"/>
<text transform="translate(265.60 497.30) scale(0.94 1)" font-size="13.5" font-weight="bold" text-anchor="end">300</text>
<rect x="274.50" y="593.22" width="24.20" height="33.18" fill="#000000"/>
<line x1="286.60" y1="626.40" x2="286.60" y2="630.90" stroke="#2a2a2a" stroke-width="1.25"/>
<text transform="translate(289.10 633.60) rotate(-90) scale(1 0.9)" font-size="9.4" font-weight="bold" text-anchor="end">Ad-vector</text>
<rect x="304.10" y="594.24" width="24.20" height="32.16" fill="#a1a0a5"/>
<line x1="316.20" y1="626.40" x2="316.20" y2="630.90" stroke="#2a2a2a" stroke-width="1.25"/>
<text transform="translate(318.70 633.60) rotate(-90) scale(1 0.9)" font-size="9.4" font-weight="bold" text-anchor="end">Ad-HIPK2</text>
<rect x="333.70" y="592.01" width="24.20" height="34.39" fill="#818181"/>
<line x1="345.80" y1="626.40" x2="345.80" y2="630.90" stroke="#2a2a2a" stroke-width="1.25"/>
<text transform="translate(348.30 633.60) rotate(-90) scale(1 0.9)" font-size="9.4" font-weight="bold" text-anchor="end">Ad-shHIPK2</text>
<rect x="363.30" y="532.87" width="24.20" height="93.53" fill="#d4d4d4"/>
<line x1="375.40" y1="626.40" x2="375.40" y2="630.90" stroke="#2a2a2a" stroke-width="1.25"/>
<text transform="translate(377.90 633.60) rotate(-90) scale(1 0.9)" font-size="9.4" font-weight="bold" text-anchor="end">Ad-vector</text>
<rect x="392.90" y="577.21" width="24.20" height="49.19" fill="#626262"/>
<line x1="405.00" y1="626.40" x2="405.00" y2="630.90" stroke="#2a2a2a" stroke-width="1.25"/>
<text transform="translate(407.50 633.60) rotate(-90) scale(1 0.9)" font-size="9.4" font-weight="bold" text-anchor="end">Ad-HIPK2</text>
<rect x="422.50" y="510.93" width="24.20" height="115.47" fill="#a1a0a5"/>
<line x1="434.60" y1="626.40" x2="434.60" y2="630.90" stroke="#2a2a2a" stroke-width="1.25"/>
<text transform="translate(437.10 633.60) rotate(-90) scale(1 0.9)" font-size="9.4" font-weight="bold" text-anchor="end">Ad-shHIPK2</text>
<line x1="271.80" y1="626.40" x2="449.40" y2="626.40" stroke="#2a2a2a" stroke-width="1.25"/>
<line x1="286.60" y1="590.63" x2="286.60" y2="593.22" stroke="#1a1a1a" stroke-width="1.15"/>
<line x1="280.50" y1="590.63" x2="292.70" y2="590.63" stroke="#1a1a1a" stroke-width="1.15"/>
<line x1="316.20" y1="591.30" x2="316.20" y2="596.74" stroke="#1a1a1a" stroke-width="1.15"/>
<line x1="310.10" y1="591.30" x2="322.30" y2="591.30" stroke="#1a1a1a" stroke-width="1.15"/>
<line x1="310.10" y1="596.74" x2="322.30" y2="596.74" stroke="#1a1a1a" stroke-width="1.15"/>
<line x1="345.80" y1="589.43" x2="345.80" y2="594.24" stroke="#1a1a1a" stroke-width="1.15"/>
<line x1="339.70" y1="589.43" x2="351.90" y2="589.43" stroke="#1a1a1a" stroke-width="1.15"/>
<line x1="339.70" y1="594.24" x2="351.90" y2="594.24" stroke="#1a1a1a" stroke-width="1.15"/>
<line x1="375.40" y1="529.35" x2="375.40" y2="536.44" stroke="#1a1a1a" stroke-width="1.15"/>
<line x1="369.30" y1="529.35" x2="381.50" y2="529.35" stroke="#1a1a1a" stroke-width="1.15"/>
<line x1="369.30" y1="536.44" x2="381.50" y2="536.44" stroke="#1a1a1a" stroke-width="1.15"/>
<line x1="405.00" y1="573.50" x2="405.00" y2="580.46" stroke="#1a1a1a" stroke-width="1.15"/>
<line x1="398.90" y1="573.50" x2="411.10" y2="573.50" stroke="#1a1a1a" stroke-width="1.15"/>
<line x1="398.90" y1="580.46" x2="411.10" y2="580.46" stroke="#1a1a1a" stroke-width="1.15"/>
<line x1="434.60" y1="507.41" x2="434.60" y2="513.61" stroke="#1a1a1a" stroke-width="1.15"/>
<line x1="428.50" y1="507.41" x2="440.70" y2="507.41" stroke="#1a1a1a" stroke-width="1.15"/>
<line x1="428.50" y1="513.61" x2="440.70" y2="513.61" stroke="#1a1a1a" stroke-width="1.15"/>
<text x="375.10" y="527.40" font-size="10" text-anchor="middle" fill="#3a3a3a">#</text>
<text x="404.60" y="572.30" font-size="10" text-anchor="middle" fill="#3a3a3a">#</text>
<text x="404.30" y="563.50" font-size="10" text-anchor="middle" fill="#3a3a3a">+</text>
<text x="434.60" y="506.00" font-size="10" text-anchor="middle" fill="#3a3a3a">#</text>
<text x="434.30" y="497.40" font-size="10" text-anchor="middle" fill="#3a3a3a">+</text>
<line x1="280.30" y1="686.10" x2="352.50" y2="686.10" stroke="#222" stroke-width="1.2"/>
<line x1="369.00" y1="686.10" x2="441.10" y2="686.10" stroke="#222" stroke-width="1.2"/>
<text x="318.80" y="699.20" font-size="12" font-weight="bold" text-anchor="middle">Sham</text>
<text x="405.80" y="699.20" font-size="12" font-weight="bold" text-anchor="middle">CLP</text>
<text transform="translate(238.60 555.25) rotate(-90) scale(1 0.93)" font-size="12" font-weight="bold" text-anchor="middle">Liver AST (U/L)</text>
<text x="466.60" y="484.40" font-size="14" font-weight="bold">I</text>
<line x1="505.50" y1="492.60" x2="505.50" y2="626.40" stroke="#2a2a2a" stroke-width="1.25"/>
<line x1="500.70" y1="626.40" x2="505.50" y2="626.40" stroke="#2a2a2a" stroke-width="1.25"/>
<text transform="translate(499.30 631.10) scale(0.94 1)" font-size="13.5" font-weight="bold" text-anchor="end">0</text>
<line x1="500.70" y1="581.80" x2="505.50" y2="581.80" stroke="#2a2a2a" stroke-width="1.25"/>
<text transform="translate(499.30 586.50) scale(0.94 1)" font-size="13.5" font-weight="bold" text-anchor="end">50</text>
<line x1="500.70" y1="537.20" x2="505.50" y2="537.20" stroke="#2a2a2a" stroke-width="1.25"/>
<text transform="translate(499.30 541.90) scale(0.94 1)" font-size="13.5" font-weight="bold" text-anchor="end">100</text>
<line x1="500.70" y1="492.60" x2="505.50" y2="492.60" stroke="#2a2a2a" stroke-width="1.25"/>
<text transform="translate(499.30 497.30) scale(0.94 1)" font-size="13.5" font-weight="bold" text-anchor="end">150</text>
<rect x="508.20" y="577.16" width="24.20" height="49.24" fill="#000000"/>
<line x1="520.30" y1="626.40" x2="520.30" y2="630.90" stroke="#2a2a2a" stroke-width="1.25"/>
<text transform="translate(522.80 633.60) rotate(-90) scale(1 0.9)" font-size="9.4" font-weight="bold" text-anchor="end">Ad-vector</text>
<rect x="537.80" y="579.30" width="24.20" height="47.10" fill="#a1a0a5"/>
<line x1="549.90" y1="626.40" x2="549.90" y2="630.90" stroke="#2a2a2a" stroke-width="1.25"/>
<text transform="translate(552.40 633.60) rotate(-90) scale(1 0.9)" font-size="9.4" font-weight="bold" text-anchor="end">Ad-HIPK2</text>
<rect x="567.40" y="574.22" width="24.20" height="52.18" fill="#818181"/>
<line x1="579.50" y1="626.40" x2="579.50" y2="630.90" stroke="#2a2a2a" stroke-width="1.25"/>
<text transform="translate(582.00 633.60) rotate(-90) scale(1 0.9)" font-size="9.4" font-weight="bold" text-anchor="end">Ad-shHIPK2</text>
<rect x="597.00" y="545.85" width="24.20" height="80.55" fill="#d4d4d4"/>
<line x1="609.10" y1="626.40" x2="609.10" y2="630.90" stroke="#2a2a2a" stroke-width="1.25"/>
<text transform="translate(611.60 633.60) rotate(-90) scale(1 0.9)" font-size="9.4" font-weight="bold" text-anchor="end">Ad-vector</text>
<rect x="626.60" y="594.82" width="24.20" height="31.58" fill="#626262"/>
<line x1="638.70" y1="626.40" x2="638.70" y2="630.90" stroke="#2a2a2a" stroke-width="1.25"/>
<text transform="translate(641.20 633.60) rotate(-90) scale(1 0.9)" font-size="9.4" font-weight="bold" text-anchor="end">Ad-HIPK2</text>
<rect x="656.20" y="527.21" width="24.20" height="99.19" fill="#a1a0a5"/>
<line x1="668.30" y1="626.40" x2="668.30" y2="630.90" stroke="#2a2a2a" stroke-width="1.25"/>
<text transform="translate(670.80 633.60) rotate(-90) scale(1 0.9)" font-size="9.4" font-weight="bold" text-anchor="end">Ad-shHIPK2</text>
<line x1="505.50" y1="626.40" x2="683.10" y2="626.40" stroke="#2a2a2a" stroke-width="1.25"/>
<line x1="520.30" y1="573.24" x2="520.30" y2="577.16" stroke="#1a1a1a" stroke-width="1.15"/>
<line x1="514.20" y1="573.24" x2="526.40" y2="573.24" stroke="#1a1a1a" stroke-width="1.15"/>
<line x1="549.90" y1="574.66" x2="549.90" y2="583.41" stroke="#1a1a1a" stroke-width="1.15"/>
<line x1="543.80" y1="574.66" x2="556.00" y2="574.66" stroke="#1a1a1a" stroke-width="1.15"/>
<line x1="543.80" y1="583.41" x2="556.00" y2="583.41" stroke="#1a1a1a" stroke-width="1.15"/>
<line x1="579.50" y1="570.29" x2="579.50" y2="577.43" stroke="#1a1a1a" stroke-width="1.15"/>
<line x1="573.40" y1="570.29" x2="585.60" y2="570.29" stroke="#1a1a1a" stroke-width="1.15"/>
<line x1="573.40" y1="577.43" x2="585.60" y2="577.43" stroke="#1a1a1a" stroke-width="1.15"/>
<line x1="609.10" y1="541.04" x2="609.10" y2="549.96" stroke="#1a1a1a" stroke-width="1.15"/>
<line x1="603.00" y1="541.04" x2="615.20" y2="541.04" stroke="#1a1a1a" stroke-width="1.15"/>
<line x1="603.00" y1="549.96" x2="615.20" y2="549.96" stroke="#1a1a1a" stroke-width="1.15"/>
<line x1="638.70" y1="590.90" x2="638.70" y2="598.12" stroke="#1a1a1a" stroke-width="1.15"/>
<line x1="632.60" y1="590.90" x2="644.80" y2="590.90" stroke="#1a1a1a" stroke-width="1.15"/>
<line x1="632.60" y1="598.12" x2="644.80" y2="598.12" stroke="#1a1a1a" stroke-width="1.15"/>
<line x1="668.30" y1="522.21" x2="668.30" y2="531.40" stroke="#1a1a1a" stroke-width="1.15"/>
<line x1="662.20" y1="522.21" x2="674.40" y2="522.21" stroke="#1a1a1a" stroke-width="1.15"/>
<line x1="662.20" y1="531.40" x2="674.40" y2="531.40" stroke="#1a1a1a" stroke-width="1.15"/>
<text x="608.70" y="537.80" font-size="10" text-anchor="middle" fill="#3a3a3a">#</text>
<text x="638.50" y="587.50" font-size="10" text-anchor="middle" fill="#3a3a3a">#</text>
<text x="638.80" y="577.50" font-size="10" text-anchor="middle" fill="#3a3a3a">+</text>
<text x="668.10" y="519.80" font-size="10" text-anchor="middle" fill="#3a3a3a">#</text>
<text x="667.70" y="510.70" font-size="10" text-anchor="middle" fill="#3a3a3a">+</text>
<line x1="514.00" y1="686.10" x2="586.20" y2="686.10" stroke="#222" stroke-width="1.2"/>
<line x1="602.70" y1="686.10" x2="674.80" y2="686.10" stroke="#222" stroke-width="1.2"/>
<text x="552.50" y="699.20" font-size="12" font-weight="bold" text-anchor="middle">Sham</text>
<text x="639.50" y="699.20" font-size="12" font-weight="bold" text-anchor="middle">CLP</text>
<text transform="translate(473.60 561.60) rotate(-90) scale(1 0.93)" font-size="12" font-weight="bold" text-anchor="middle">Liver ALP (U/L)</text>
</svg>
</body></html>
